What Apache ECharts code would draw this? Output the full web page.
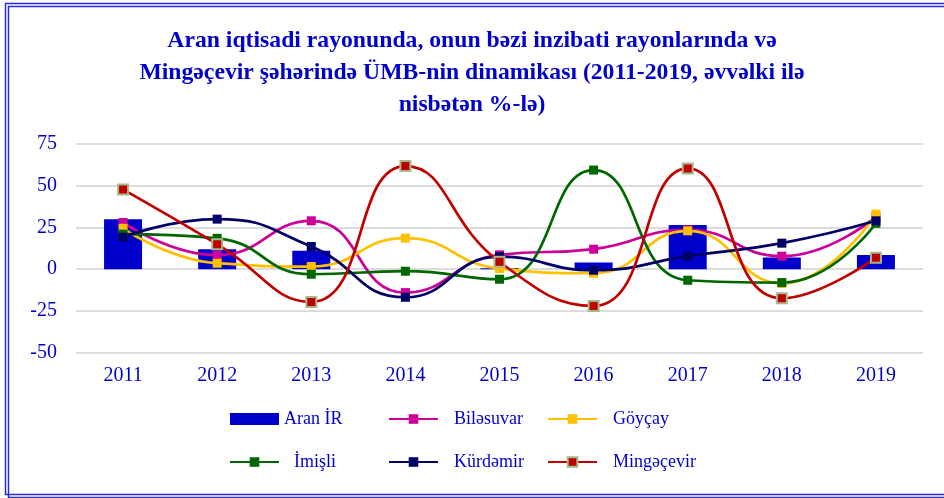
<!DOCTYPE html>
<html><head><meta charset="utf-8">
<script src="https://cdn.jsdelivr.net/npm/echarts@6/dist/echarts.min.js"></script>
<style>html,body{margin:0;padding:0;background:#fff}#c{width:944px;height:498px}</style>
</head><body><div id="c"></div>
<script>
const titleText = "Aran iqtisadi rayonunda, onun bəzi inzibati rayonlarında və\nMingəçevir şəhərində ÜMB-nin dinamikası (2011-2019, əvvəlki ilə\nnisbətən %-lə)";
const years = ["2011","2012","2013","2014","2015","2016","2017","2018","2019"];
const aranIR     = [30, 12, 11, 0, 0.6, 4, 26.5, 7, 8.5];
const bilesuvar  = [28, 8.4, 29, -14, 8.6, 12, 23.6, 7.8, 31.5];
const goycay     = [24.5, 3.6, 1.6, 18.6, 0.4, -2.4, 23, -8.5, 33];
const imisli     = [21, 18.5, -3, -1.2, -6, 59.4, -6.6, -8, 27.5];
const kurdemir   = [19.2, 30, 13.6, -16.8, 7.5, -0.6, 7.8, 15.6, 29];
const mingecevir = [47.8, 15, -19.6, 61.8, 4.4, -22, 60.4, -17.4, 6.8];
const yTicks = {min: -50, max: 75, interval: 25};

const blue = '#0000CC';
const font = '"Liberation Serif", "Times New Roman", serif';
const chart = echarts.init(document.getElementById('c'), null, {renderer: 'canvas'});

function lineSeries(name, data, color, extra) {
  return Object.assign({
    name, type: 'line', data, smooth: 0.5,
    symbol: 'rect', symbolSize: 9,
    lineStyle: {color, width: 2.7},
    itemStyle: {color},
    z: 3
  }, extra || {});
}

const legendText = (pad) => ({color: blue, fontFamily: font, fontSize: 18, lineHeight: 20, padding: [0,0,0,pad]});
const legendBase = {orient: 'vertical', top: 409, itemWidth: 49, itemHeight: 12, itemGap: 23, padding: 0, textStyle: legendText(0)};

chart.setOption({
  animation: false,
  backgroundColor: '#fff',
  title: {
    text: titleText, left: 472, top: 25, textAlign: 'center', padding: 0,
    textStyle: {color: blue, fontFamily: font, fontWeight: 'bold', fontSize: 23.7, lineHeight: 32}
  },
  graphic: [
    {type: 'rect', shape: {x: 5.5, y: 3.5, width: 960, height: 491}, style: {fill: null, stroke: '#2a2ad8', lineWidth: 1.5}, silent: true},
    {type: 'rect', shape: {x: 8.5, y: 6.5, width: 960, height: 491}, style: {fill: null, stroke: '#2a2ad8', lineWidth: 1.5}, silent: true}
  ],
  grid: {left: 76, right: 21, top: 144, bottom: 145.3, containLabel: false},
  xAxis: {
    type: 'category', data: years,
    axisLine: {show: false}, axisTick: {show: false},
    axisLabel: {color: blue, fontFamily: font, fontSize: 20, margin: 13}
  },
  yAxis: {
    type: 'value', min: yTicks.min, max: yTicks.max, interval: yTicks.interval,
    axisLine: {show: false}, axisTick: {show: false},
    splitLine: {lineStyle: {color: '#d0d0d0', width: 1.5}},
    axisLabel: {color: blue, fontFamily: font, fontSize: 20, margin: 19}
  },
  legend: [
    Object.assign({}, legendBase, {left: 229,
     data: [{name: 'Aran İR', icon: 'rect', textStyle: legendText(0)}, {name: 'İmişli', textStyle: legendText(10)}]}),
    Object.assign({}, legendBase, {left: 388,
     data: [{name: 'Biləsuvar', textStyle: legendText(11)}, {name: 'Kürdəmir', textStyle: legendText(11)}]}),
    Object.assign({}, legendBase, {left: 547,
     data: [{name: 'Göyçay', textStyle: legendText(11)}, {name: 'Mingəçevir', textStyle: legendText(11)}]})
  ],
  series: [
    {name: 'Aran İR', type: 'bar', data: aranIR, barWidth: 38,
     itemStyle: {color: blue}, z: 2},
    lineSeries('Biləsuvar', bilesuvar, '#CC0099'),
    lineSeries('Göyçay', goycay, '#FFC000'),
    lineSeries('İmişli', imisli, '#006600'),
    lineSeries('Kürdəmir', kurdemir, '#000066'),
    lineSeries('Mingəçevir', mingecevir, '#C00000',
      {itemStyle: {color: '#C00000', borderColor: '#a3b98e', borderWidth: 2}, symbolSize: 10})
  ]
});
</script></body></html>
